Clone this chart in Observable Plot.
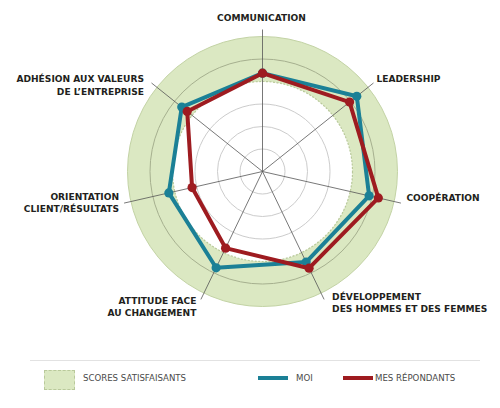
<!DOCTYPE html>
<html>
<head>
<meta charset="utf-8">
<script src="https://cdn.jsdelivr.net/npm/d3@7"></script>
<script src="https://cdn.jsdelivr.net/npm/@observablehq/plot@0.6"></script>
<style>
  html, body { margin: 0; padding: 0; background: #fff; }
  #wrap { position: relative; width: 500px; height: 408px; font-family: "DejaVu Sans", sans-serif; }
  #legend { position: absolute; left: 0; top: 355px; width: 500px; height: 53px; }
  .sep { position: absolute; left: 30px; top: 5px; width: 450px; height: 1px; background: #e2e2e2; }
  .sw { position: absolute; }
  .lt { position: absolute; font-size: 8.6px; color: #4a4a4a; line-height: 10px; }
</style>
</head>
<body>
<div id="wrap">
  <div id="chart"></div>
  <div id="legend">
    <div class="sep"></div>
    <div class="sw" style="left:44px; top:15px; width:29px; height:18px; background:#dbe8c2; border:1px dashed #b9c99b;"></div>
    <div class="lt" style="left:83px; top:18px;">SCORES SATISFAISANTS</div>
    <div class="sw" style="left:258px; top:21px; width:30px; height:4px; background:#1b8096;"></div>
    <div class="lt" style="left:296px; top:18px;">MOI</div>
    <div class="sw" style="left:343px; top:21px; width:30px; height:4px; background:#9e1b20;"></div>
    <div class="lt" style="left:375px; top:18px;">MES RÉPONDANTS</div>
  </div>
</div>
<script>
// ---- data ----
const categories = [
  "COMMUNICATION",
  "LEADERSHIP",
  "COOPÉRATION",
  "DÉVELOPPEMENT\nDES HOMMES ET DES FEMMES",
  "ATTITUDE FACE\nAU CHANGEMENT",
  "ORIENTATION\nCLIENT/RÉSULTATS",
  "ADHÉSION AUX VALEURS\nDE L’ENTREPRISE"
];
const moi = [4.37, 5.36, 4.86, 4.47, 4.75, 4.27, 4.59];
const repondants = [4.37, 4.95, 5.28, 4.77, 3.78, 3.21, 4.28];
const gridRings = [1, 2, 3, 5];
const satisfactoryMin = 4;
const scaleMax = 6;

// ---- layout ----
const W = 500, H = 355, cx = 262, cy = 171, unit = 22.5;
const axisLen = 6.31;
const labelLayout = [
  {anchor: "middle", dx: -1, dy: -12},
  {anchor: "start", dx: 3, dy: -5},
  {anchor: "start", dx: 5.5, dy: -6},
  {anchor: "start", dx: 8, dy: 2.5},
  {anchor: "end", dx: -4.5, dy: 6.5},
  {anchor: "end", dx: -5, dy: -1},
  {anchor: "end", dx: -7.5, dy: 1.5}
];
const teal = "#1b8096", red = "#9e1b20";

const n = categories.length;
const ang = i => i * 2 * Math.PI / n;
const pts = vals => vals.map((v, i) => ({x: v * Math.sin(ang(i)), y: v * Math.cos(ang(i))}));
const axesData = categories.map((c, i) => ({label: c, i, x: axisLen * Math.sin(ang(i)), y: axisLen * Math.cos(ang(i))}));

const chart = Plot.plot({
  width: W, height: H,
  margin: 0,
  x: {domain: [-cx / unit, (W - cx) / unit], range: [0, W], axis: null},
  y: {domain: [-(H - cy) / unit, cy / unit], range: [H, 0], axis: null},
  r: {type: "linear", domain: [0, scaleMax], range: [0, scaleMax * unit]},
  style: {fontFamily: "DejaVu Sans, sans-serif", background: "white"},
  marks: [
    Plot.dot([scaleMax], {x: () => 0, y: () => 0, r: d => d, fill: "#dbe8c2", stroke: "#c3d3a5", strokeWidth: 1}),
    Plot.dot([satisfactoryMin], {x: () => 0, y: () => 0, r: d => d, fill: "white", stroke: "#b9c99b", strokeWidth: 1.2, strokeDasharray: "2,1.5"}),
    Plot.dot(gridRings, {x: () => 0, y: () => 0, r: d => d, stroke: d => d > satisfactoryMin ? "#a6b08f" : "#cccccc", strokeWidth: 1}),
    Plot.link(axesData, {x1: () => 0, y1: () => 0, x2: "x", y2: "y", stroke: "#555", strokeWidth: 0.8}),
    Plot.line(pts(moi), {x: "x", y: "y", curve: "linear-closed", stroke: teal, strokeWidth: 4, strokeLinejoin: "round"}),
    Plot.dot(pts(moi), {x: "x", y: "y", r: 4.6, fill: teal}),
    Plot.line(pts(repondants), {x: "x", y: "y", curve: "linear-closed", stroke: red, strokeWidth: 4, strokeLinejoin: "round"}),
    Plot.dot(pts(repondants), {x: "x", y: "y", r: 4.6, fill: red}),
    ...axesData.map((d, i) => Plot.text([d], {
      x: "x", y: "y", text: "label",
      textAnchor: labelLayout[i].anchor, dx: labelLayout[i].dx, dy: labelLayout[i].dy,
      lineHeight: 1.35, fontSize: 9.1, fontWeight: "bold", fill: "#231f20"
    }))
  ]
});
document.getElementById("chart").appendChild(chart);
</script>
</body>
</html>
